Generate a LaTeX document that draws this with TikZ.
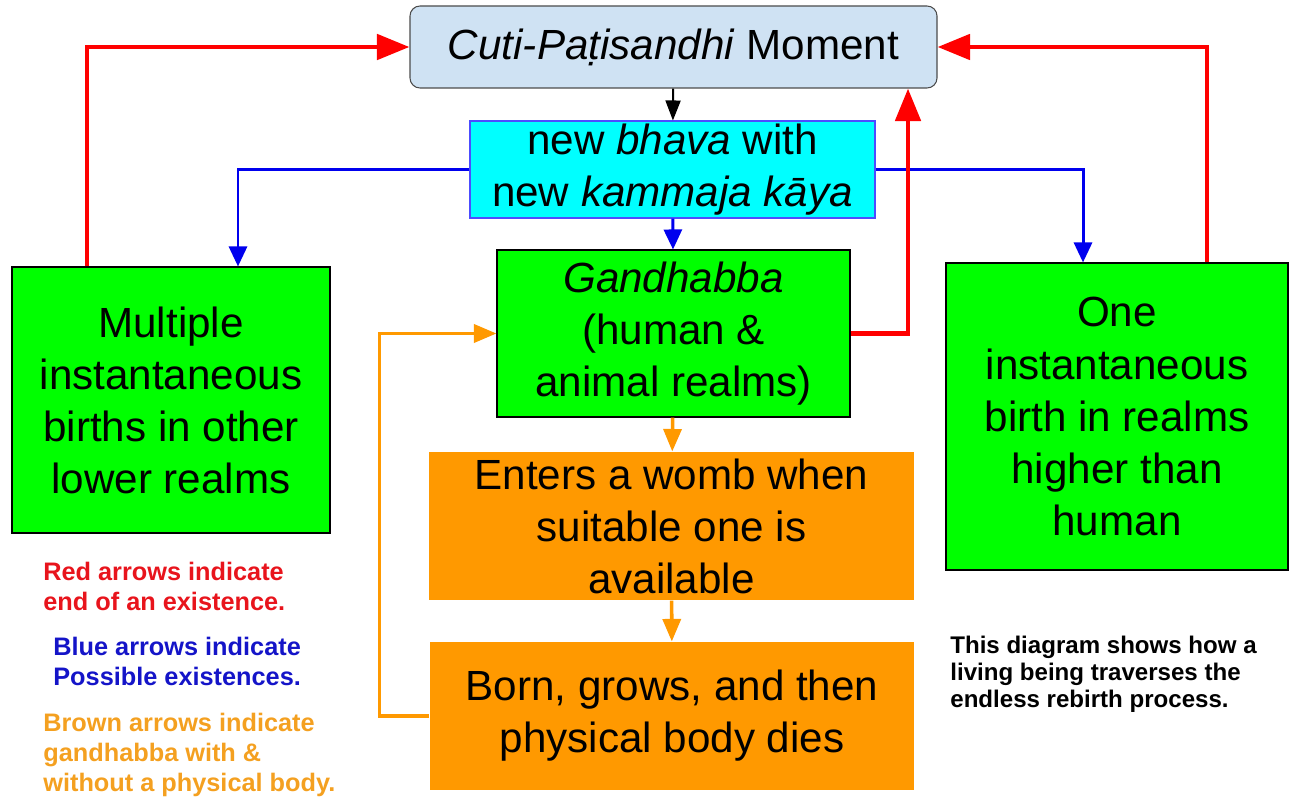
\documentclass[tikz,border=0pt]{standalone}
\usepackage{fontspec}
\setmainfont{Liberation Sans}
\usepackage{xcolor}
\usetikzlibrary{arrows.meta, positioning, calc}

\definecolor{momentfill}{HTML}{CFE2F3}
\definecolor{bhavafill}{HTML}{00FFFF}
\definecolor{realmgreen}{HTML}{00FF00}
\definecolor{wombfill}{HTML}{FF9900}
\definecolor{endred}{HTML}{FF0000}
\definecolor{possblue}{HTML}{0000EE}
\definecolor{legred}{HTML}{E8141C}
\definecolor{legblue}{HTML}{1414C8}
\definecolor{legorange}{HTML}{F4A020}

\newcommand{\boxfont}{\fontsize{24}{29.6}\selectfont}
\newcommand{\legfont}{\fontsize{14.4}{17}\selectfont\bfseries}
\newcommand{\notefont}{\fontsize{13.7}{15.4}\selectfont\bfseries}

\tikzset{
  %% Generic box
  sbox/.style={
    rectangle, draw=black, fill=#1,
    align=center, font=\boxfont,
    inner sep=0pt, line width=0.6pt
  },
  sbox/.default=realmgreen,
  %% Arrows
  redarr/.style={-{Triangle[length=0.65cm,width=0.5cm]},
                 draw=endred, line width=2.8pt},
  bluearr/.style={-{Triangle[length=0.4cm,width=0.36cm]},
                  draw=possblue, line width=1.7pt},
  orarr/.style={-{Triangle[length=0.45cm,width=0.36cm]},
                draw=wombfill, line width=2pt},
  blkarr/.style={-{Triangle[length=0.4cm,width=0.3cm]},
                 draw=black, line width=1.1pt},
  %% Legend text
  legend/.style={anchor=north west, align=left, inner sep=0pt, font=\legfont},
}

\begin{document}
\begin{tikzpicture}
  \useasboundingbox (0,0) rectangle (25.9,15.92);

  %% Boxes
  \node[sbox=momentfill, draw=black!70, rounded corners=0.2cm,
        minimum width=10.54cm, minimum height=1.64cm] (moment) at (13.47,14.98)
       {\textit{Cuti-Paṭisandhi} Moment};
  \node[sbox=bhavafill, draw=blue!70, minimum width=8.1cm, minimum height=1.94cm]
       (bhava) at (13.45,12.53) {new \textit{bhava} with\\new \textit{kammaja kāya}};
  \node[sbox, minimum width=7.06cm, minimum height=3.34cm] (gandhabba) at (13.47,9.25)
       {\textit{Gandhabba}\\(human \&\\animal realms)};
  \node[sbox, minimum width=6.36cm, minimum height=5.32cm] (lower) at (3.42,7.92)
       {Multiple\\instantaneous\\births in other\\lower realms};
  \node[sbox, minimum width=6.84cm, minimum height=6.14cm] (higher) at (22.34,7.59)
       {One\\instantaneous\\birth in realms\\higher than\\human};
  \node[sbox=wombfill, draw=none, minimum width=9.7cm, minimum height=2.96cm]
       (womb) at (13.43,5.4) {Enters a womb when\\suitable one is\\available};
  \node[sbox=wombfill, draw=none, minimum width=9.68cm, minimum height=2.96cm]
       (dies) at (13.44,1.6) {Born, grows, and then\\physical body dies};

  %% Down the middle
  \draw[blkarr] (moment) -- (bhava);
  \draw[bluearr] (bhava) -- (gandhabba);
  \draw[orarr] (gandhabba) -- (womb);
  \draw[orarr] (womb) -- (dies);

  %% Possible existences
  \draw[bluearr] (bhava.west) -| ([xshift=1.34cm]lower.north);
  \draw[bluearr] (bhava.east) -| ([xshift=-0.68cm]higher.north);

  %% End of an existence
  \draw[redarr] ([xshift=-1.68cm]lower.north) |- (moment.west);
  \draw[redarr] ([xshift=1.8cm]higher.north) |- (moment.east);
  \draw[redarr] (gandhabba.east) -| ([xshift=4.69cm]moment.south);

  %% Back to gandhabba
  \draw[orarr] (dies.west) -- ++(-1.0,0) |- (gandhabba.west);

  %% Legend
  \node[legend, text=legred] (legR) at (0.86,4.68)
       {Red arrows indicate\\end of an existence.};
  \node[legend, text=legblue] (legB) at (1.06,3.18)
       {Blue arrows indicate\\Possible existences.};
  \node[legend, text=legorange] (legO) at (0.86,1.66)
       {Brown arrows indicate\\gandhabba with \&\\without a physical body.};
  \node[legend, font=\notefont] (note) at (19.0,3.2)
       {This diagram shows how a\\living being traverses the\\endless rebirth process.};

\end{tikzpicture}
\end{document}
